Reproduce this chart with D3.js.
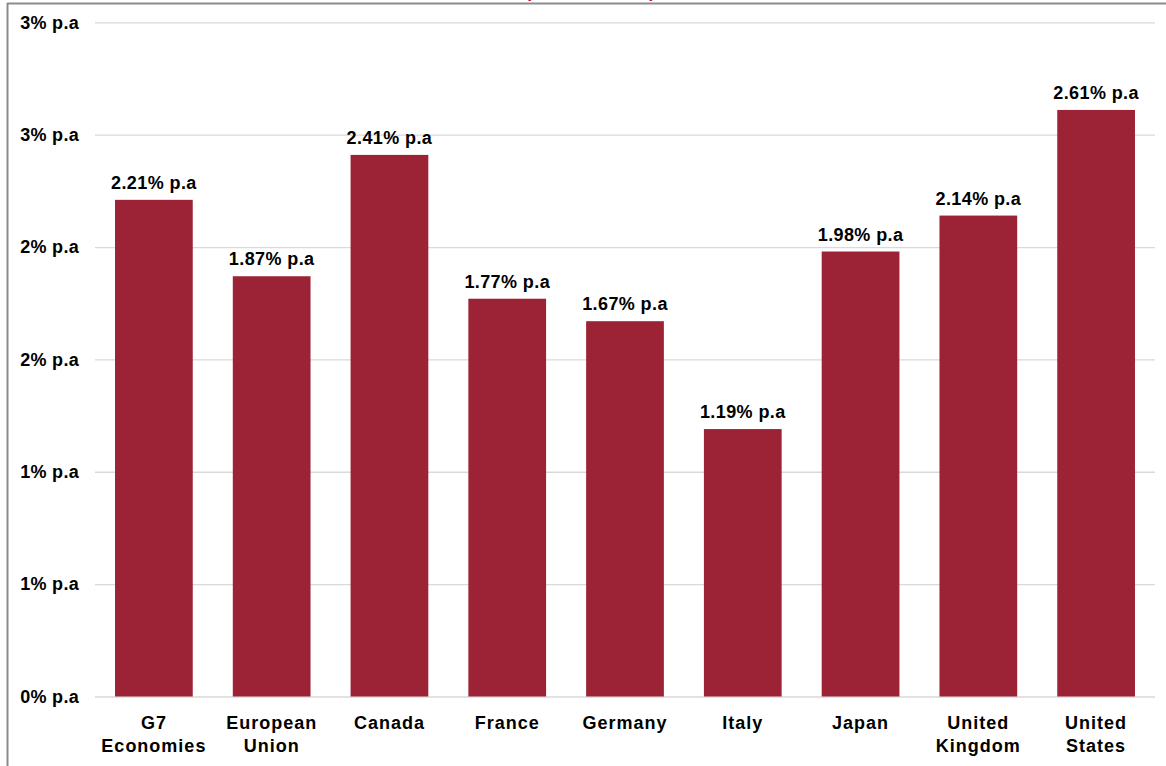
<!DOCTYPE html>
<html>
<head>
<meta charset="utf-8">
<script src="https://cdn.jsdelivr.net/npm/d3@7"></script>
<style>
  html, body { margin: 0; padding: 0; background: #fff; }
  svg { display: block; }
  text { font-family: "Liberation Sans", Arial, sans-serif; font-weight: bold; fill: #000; }
</style>
</head>
<body>
<svg id="chart" width="1166" height="766"></svg>
<script>
// Average annual growth by economy
const categories = [
  ["G7", "Economies"],
  ["European", "Union"],
  ["Canada"],
  ["France"],
  ["Germany"],
  ["Italy"],
  ["Japan"],
  ["United", "Kingdom"],
  ["United", "States"]
];
const growth = [2.21, 1.87, 2.41, 1.77, 1.67, 1.19, 1.98, 2.14, 2.61];
const yTicks = [0, 0.5, 1, 1.5, 2, 2.5, 3];

const W = 1166, H = 766;
const plot = { left: 95, right: 1155, top: 22.3, bottom: 696.5 };
const barColor = "#9b2335";

const svg = d3.select("#chart");

const x = d3.scaleBand()
  .domain(d3.range(categories.length))
  .range([plot.left, plot.right])
  .paddingInner(0.34)
  .paddingOuter(0.17);

const y = d3.scaleLinear().domain([0, 3]).range([plot.bottom, plot.top]);

// frame (top and left edges)
svg.append("line").attr("x1", 7).attr("x2", W).attr("y1", 3.5).attr("y2", 3.5)
  .attr("stroke", "#8c8c8c").attr("stroke-width", 2);
svg.append("line").attr("x1", 7.5).attr("x2", 7.5).attr("y1", 3).attr("y2", H)
  .attr("stroke", "#8c8c8c").attr("stroke-width", 2);

// title, mostly above the visible area
svg.append("text")
  .attr("x", 591).attr("y", -3.5)
  .attr("text-anchor", "middle")
  .style("font-size", "18px")
  .style("letter-spacing", "1.5px")
  .style("fill", "#c0143c")
  .text("(2000 – 2024)");

// gridlines + y axis labels
const fmt = v => Math.round(v) + "% p.a";
const yAxis = d3.axisLeft(y).tickValues(yTicks)
  .tickSize(-(plot.right - plot.left)).tickPadding(16).tickFormat(fmt);

const gy = svg.append("g")
  .attr("transform", `translate(${plot.left},0)`)
  .call(yAxis);
gy.select(".domain").remove();
gy.selectAll(".tick line").attr("stroke", "#d9d9d9").attr("stroke-width", 1.3);
gy.selectAll(".tick text")
  .attr("font-family", null).attr("font-size", null)
  .attr("fill", null)
  .style("font-size", "18px")
  .attr("x", -16)
  .attr("text-anchor", "end")
  .style("letter-spacing", "0.3px");

// bars
svg.append("g").selectAll("rect")
  .data(growth)
  .join("rect")
  .attr("x", (d, i) => x(i))
  .attr("width", x.bandwidth())
  .attr("y", d => y(d))
  .attr("height", d => y(0) - y(d))
  .attr("fill", barColor);

// value labels
svg.append("g").selectAll("text")
  .data(growth)
  .join("text")
  .attr("x", (d, i) => x(i) + x.bandwidth() / 2)
  .attr("y", d => y(d) - 11)
  .attr("text-anchor", "middle")
  .style("font-size", "18px")
  .style("letter-spacing", "0.4px")
  .text(d => d.toFixed(2) + "% p.a");

// category labels
const cat = svg.append("g").selectAll("text")
  .data(categories)
  .join("text")
  .attr("x", (d, i) => x(i) + x.bandwidth() / 2)
  .attr("y", 729)
  .attr("text-anchor", "middle")
  .style("font-size", "18px")
  .style("letter-spacing", "1px");
cat.selectAll("tspan")
  .data(d => d)
  .join("tspan")
  .attr("x", function () { return d3.select(this.parentNode).attr("x"); })
  .attr("dy", (d, i) => i === 0 ? 0 : 23)
  .text(d => d);
</script>
</body>
</html>
